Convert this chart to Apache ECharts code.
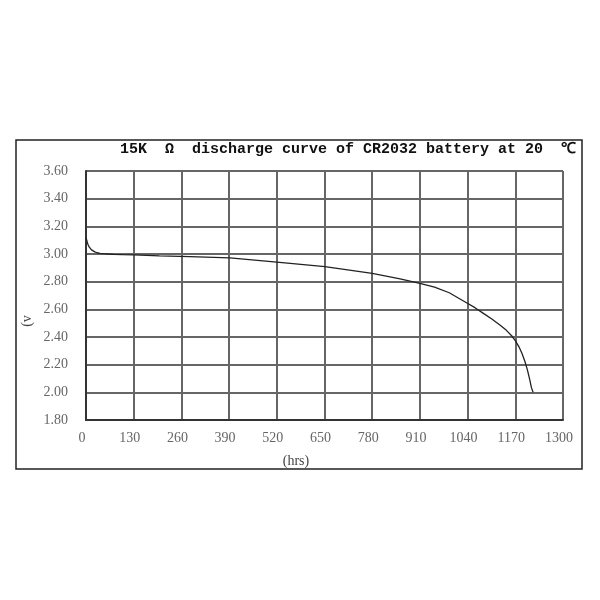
<!DOCTYPE html>
<html>
<head>
<meta charset="utf-8">
<title>CR2032 discharge curve</title>
<script src="https://cdn.jsdelivr.net/npm/echarts@6/dist/echarts.min.js"></script>
<style>
  html, body { margin: 0; padding: 0; background: #fff; }
  #main { width: 600px; height: 600px; }
</style>
</head>
<body>
<div id="main"></div>
<script>
// 放电曲线数据 (hrs, V)
const hours = [0, 2, 4, 6, 9, 12, 15, 19, 24, 30, 38, 48, 60, 75, 100, 130, 200, 283, 392, 520, 651, 780, 856, 910, 950, 990, 1037, 1060, 1083, 1106, 1128, 1145, 1160, 1170, 1180, 1188, 1196, 1203, 1209, 1214, 1218.5];
const volts = [3.12, 3.10, 3.08, 3.065, 3.05, 3.038, 3.03, 3.022, 3.015, 3.009, 3.005, 3.002, 3.0, 2.998, 2.996, 2.994, 2.987, 2.981, 2.972, 2.942, 2.908, 2.86, 2.82, 2.788, 2.76, 2.72, 2.648, 2.612, 2.571, 2.53, 2.487, 2.45, 2.409, 2.374, 2.329, 2.283, 2.225, 2.162, 2.096, 2.034, 2.0];

const titleText = "15K  Ω  discharge curve of CR2032 battery at 20  ℃";
const xName = "(hrs)";
const yName = "(v";

const myChart = echarts.init(document.getElementById("main"));

const option = {
  backgroundColor: "#fff",
  animation: false,
  grid: {
    left: 86,
    right: 37,
    top: 171,
    bottom: 180,
  },
  xAxis: {
    type: "value",
    min: 0,
    max: 1300,
    interval: 130,
    name: xName,
    nameLocation: "middle",
    nameGap: 34,
    nameTextStyle: {
      fontFamily: "Liberation Serif",
      fontSize: 14,
      color: "#444",
      padding: [0, 57, 0, 0],
    },
    axisLine: { lineStyle: { color: "#333", width: 2 } },
    axisTick: { show: false },
    axisLabel: {
      margin: 11,
      fontFamily: "Liberation Serif",
      fontSize: 14,
      color: "#666",
      padding: [0, 8, 0, 0],
      formatter: function (v) {
        return String(v);
      },
    },
    splitLine: { show: true, lineStyle: { color: "#666", width: 2 } },
  },
  yAxis: {
    type: "value",
    min: 1.8,
    max: 3.6,
    interval: 0.2,
    axisLine: { show: true, lineStyle: { color: "#333", width: 2 } },
    axisTick: { show: false },
    axisLabel: {
      margin: 18,
      fontFamily: "Liberation Serif",
      fontSize: 14,
      color: "#666",
      formatter: function (v) {
        return v.toFixed(2);
      },
    },
    splitLine: { show: true, lineStyle: { color: "#666", width: 2 } },
  },
  graphic: [
    // 外框
    {
      type: "rect",
      shape: { x: 16, y: 140, width: 566, height: 329 },
      style: { fill: "none", stroke: "#222", lineWidth: 1.5 },
      z: 100,
    },
    {
      type: "text",
      left: 120,
      top: 142,
      style: {
        text: titleText,
        font: "bold 15px 'Liberation Mono', 'DejaVu Sans Mono', monospace",
        fill: "#111",
      },
      z: 100,
    },
    {
      type: "text",
      x: 27,
      y: 321,
      rotation: Math.PI / 2,
      style: {
        text: yName,
        font: "14px 'Liberation Serif', serif",
        fill: "#444",
        align: "center",
        verticalAlign: "middle",
      },
      z: 100,
    },
  ],
  series: [
    {
      type: "line",
      data: hours.map(function (h, i) {
        return [h, volts[i]];
      }),
      showSymbol: false,
      smooth: false,
      lineStyle: { color: "#222", width: 1.3 },
    },
  ],
};

myChart.setOption(option);

window.addEventListener("resize", function () {
  myChart.resize();
});
</script>
</body>
</html>
